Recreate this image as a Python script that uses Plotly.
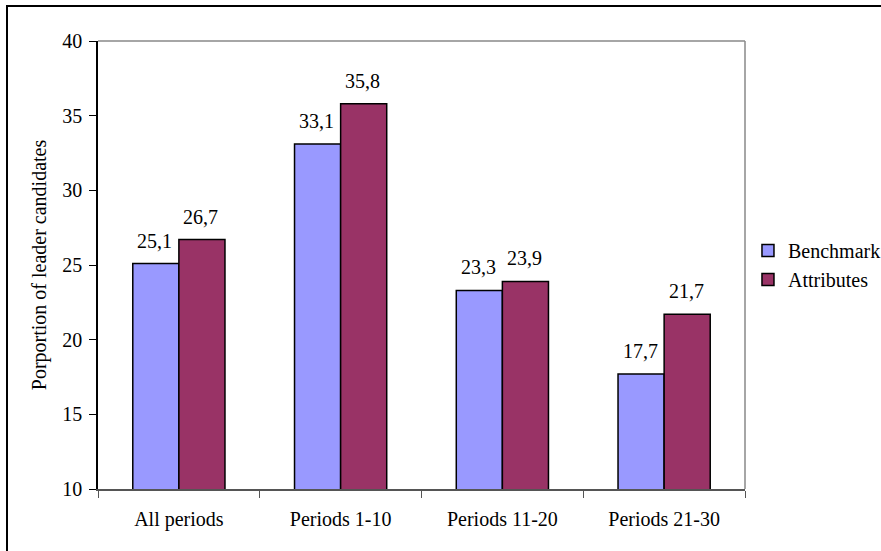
import plotly.graph_objects as go

categories = ["All periods", "Periods 1-10", "Periods 11-20", "Periods 21-30"]
benchmark = [25.1, 33.1, 23.3, 17.7]
attributes = [26.7, 35.8, 23.9, 21.7]
y_ticks = [10, 15, 20, 25, 30, 35, 40]

FONT = "Liberation Serif"
FS = 20

fig = go.Figure()
fig.add_trace(go.Bar(
    x=categories, y=benchmark, name="Benchmark",
    marker=dict(color="#9999FF", line=dict(color="black", width=1.5)),
))
fig.add_trace(go.Bar(
    x=categories, y=attributes, name="Attributes",
    marker=dict(color="#993366", line=dict(color="black", width=1.5)),
))

annotations = []
for series, shift in ((benchmark, -24), (attributes, 22)):
    for cat, val in zip(categories, series):
        annotations.append(dict(
            x=cat, y=val, xref="x", yref="y", text=f"{val:.1f}".replace(".", ","),
            showarrow=False, xanchor="center", yanchor="bottom",
            xshift=shift, yshift=10,
            font=dict(family=FONT, size=FS, color="black"),
        ))

fig.update_layout(
    width=881, height=551,
    margin=dict(l=98, r=136, t=41, b=62, autoexpand=False),
    paper_bgcolor="white", plot_bgcolor="white",
    separators=",.",
    barmode="group", bargap=0.43, bargroupgap=0,
    font=dict(family=FONT, size=FS, color="black"),
    showlegend=True,
    legend=dict(x=1.0046, xanchor="left", y=0.5, yanchor="middle",
                font=dict(family=FONT, size=FS, color="black"),
                itemwidth=30, bgcolor="rgba(0,0,0,0)"),
    xaxis=dict(type="category", showline=True, linecolor="#555555", linewidth=1.5,
               ticks="outside", tickson="boundaries", ticklen=7, tickcolor="#555555",
               tickfont=dict(family=FONT, size=FS), showgrid=False, zeroline=False,
               ticklabelstandoff=11),
    yaxis=dict(range=[10, 40], tickvals=y_ticks, showline=True, linecolor="black",
               linewidth=1.5, ticks="outside", ticklen=7, tickcolor="black",
               tickfont=dict(family=FONT, size=FS), showgrid=False, zeroline=False,
               ticklabelstandoff=3,
               title=dict(text="Porportion of leader candidates",
                          font=dict(family=FONT, size=FS), standoff=10)),
    annotations=annotations,
    shapes=[
        dict(type="line", xref="paper", yref="paper", x0=0, x1=1, y0=1, y1=1,
             line=dict(color="#888888", width=1.5)),
        dict(type="line", xref="paper", yref="paper", x0=1, x1=1, y0=0, y1=1,
             line=dict(color="#888888", width=1.5)),
        dict(type="rect", xref="paper", yref="paper",
             x0=(7 - 98) / 647, x1=(900 - 98) / 647,
             y0=(489 - 570) / 448, y1=(489 - 6) / 448,
             line=dict(color="black", width=2)),
    ],
)

fig.write_html("out.html", config={"displayModeBar": False},
               post_script="document.body.style.margin='0';")
